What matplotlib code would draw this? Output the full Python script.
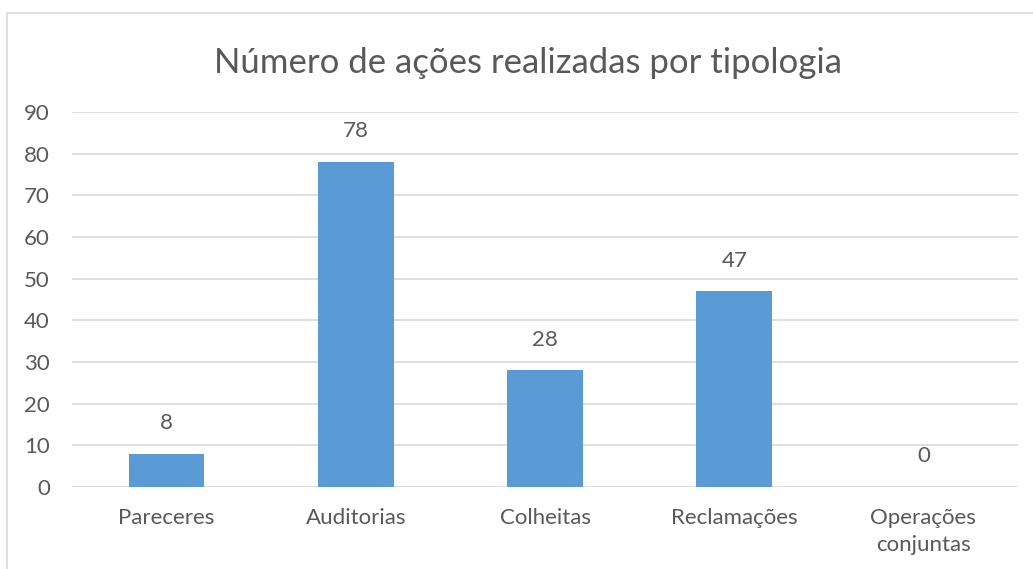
import matplotlib
matplotlib.use('Agg')
import matplotlib.pyplot as plt
from matplotlib.patches import Rectangle

# Chart values
categorias = ['Pareceres', 'Auditorias', 'Colheitas', 'Reclamações', 'Operações\nconjuntas']
valores = [8, 78, 28, 47, 0]
y_ticks = list(range(0, 100, 10))

bar_color = '#5B9BD5'
text_color = '#595959'
grid_color = '#D9D9D9'

plt.rcParams['font.family'] = ['Lato', 'DejaVu Sans']

fig = plt.figure(figsize=(10.33, 5.69), dpi=100)
ax = fig.add_axes([0.0697, 0.1441, 0.9158, 0.6591])

# Outer chart border (runs off the right/bottom of the picture)
fig.patches.append(Rectangle((0.0068, -0.2), 1.2, 1.177, transform=fig.transFigure,
                             fill=False, edgecolor=grid_color, linewidth=1.2))

x = range(len(categorias))
bars = ax.bar(x, valores, width=0.4, color=bar_color, zorder=3)

for rect, v in zip(bars, valores):
    ax.annotate(str(v), (rect.get_x() + rect.get_width() / 2, rect.get_height()),
                xytext=(0, 22), textcoords='offset points',
                ha='center', va='center', fontsize=16, color=text_color)

ax.set_xlim(-0.5, len(categorias) - 0.5)
ax.set_ylim(0, 90)
ax.set_yticks(y_ticks)
ax.set_xticks(list(x))
ax.set_xticklabels(categorias, linespacing=1.45)
ax.tick_params(axis='both', length=0, labelsize=16, labelcolor=text_color)
ax.tick_params(axis='y', pad=16)
ax.tick_params(axis='x', pad=15)
for lbl in ax.get_yticklabels():
    lbl.set_horizontalalignment('right')

ax.grid(axis='y', color=grid_color, linewidth=1.2, zorder=0)
for s in ax.spines.values():
    s.set_visible(False)

fig.text(0.511, 0.889, 'Número de ações realizadas por tipologia',
         ha='center', va='center', fontsize=25, color=text_color)

fig.savefig('out.png', dpi=100)
